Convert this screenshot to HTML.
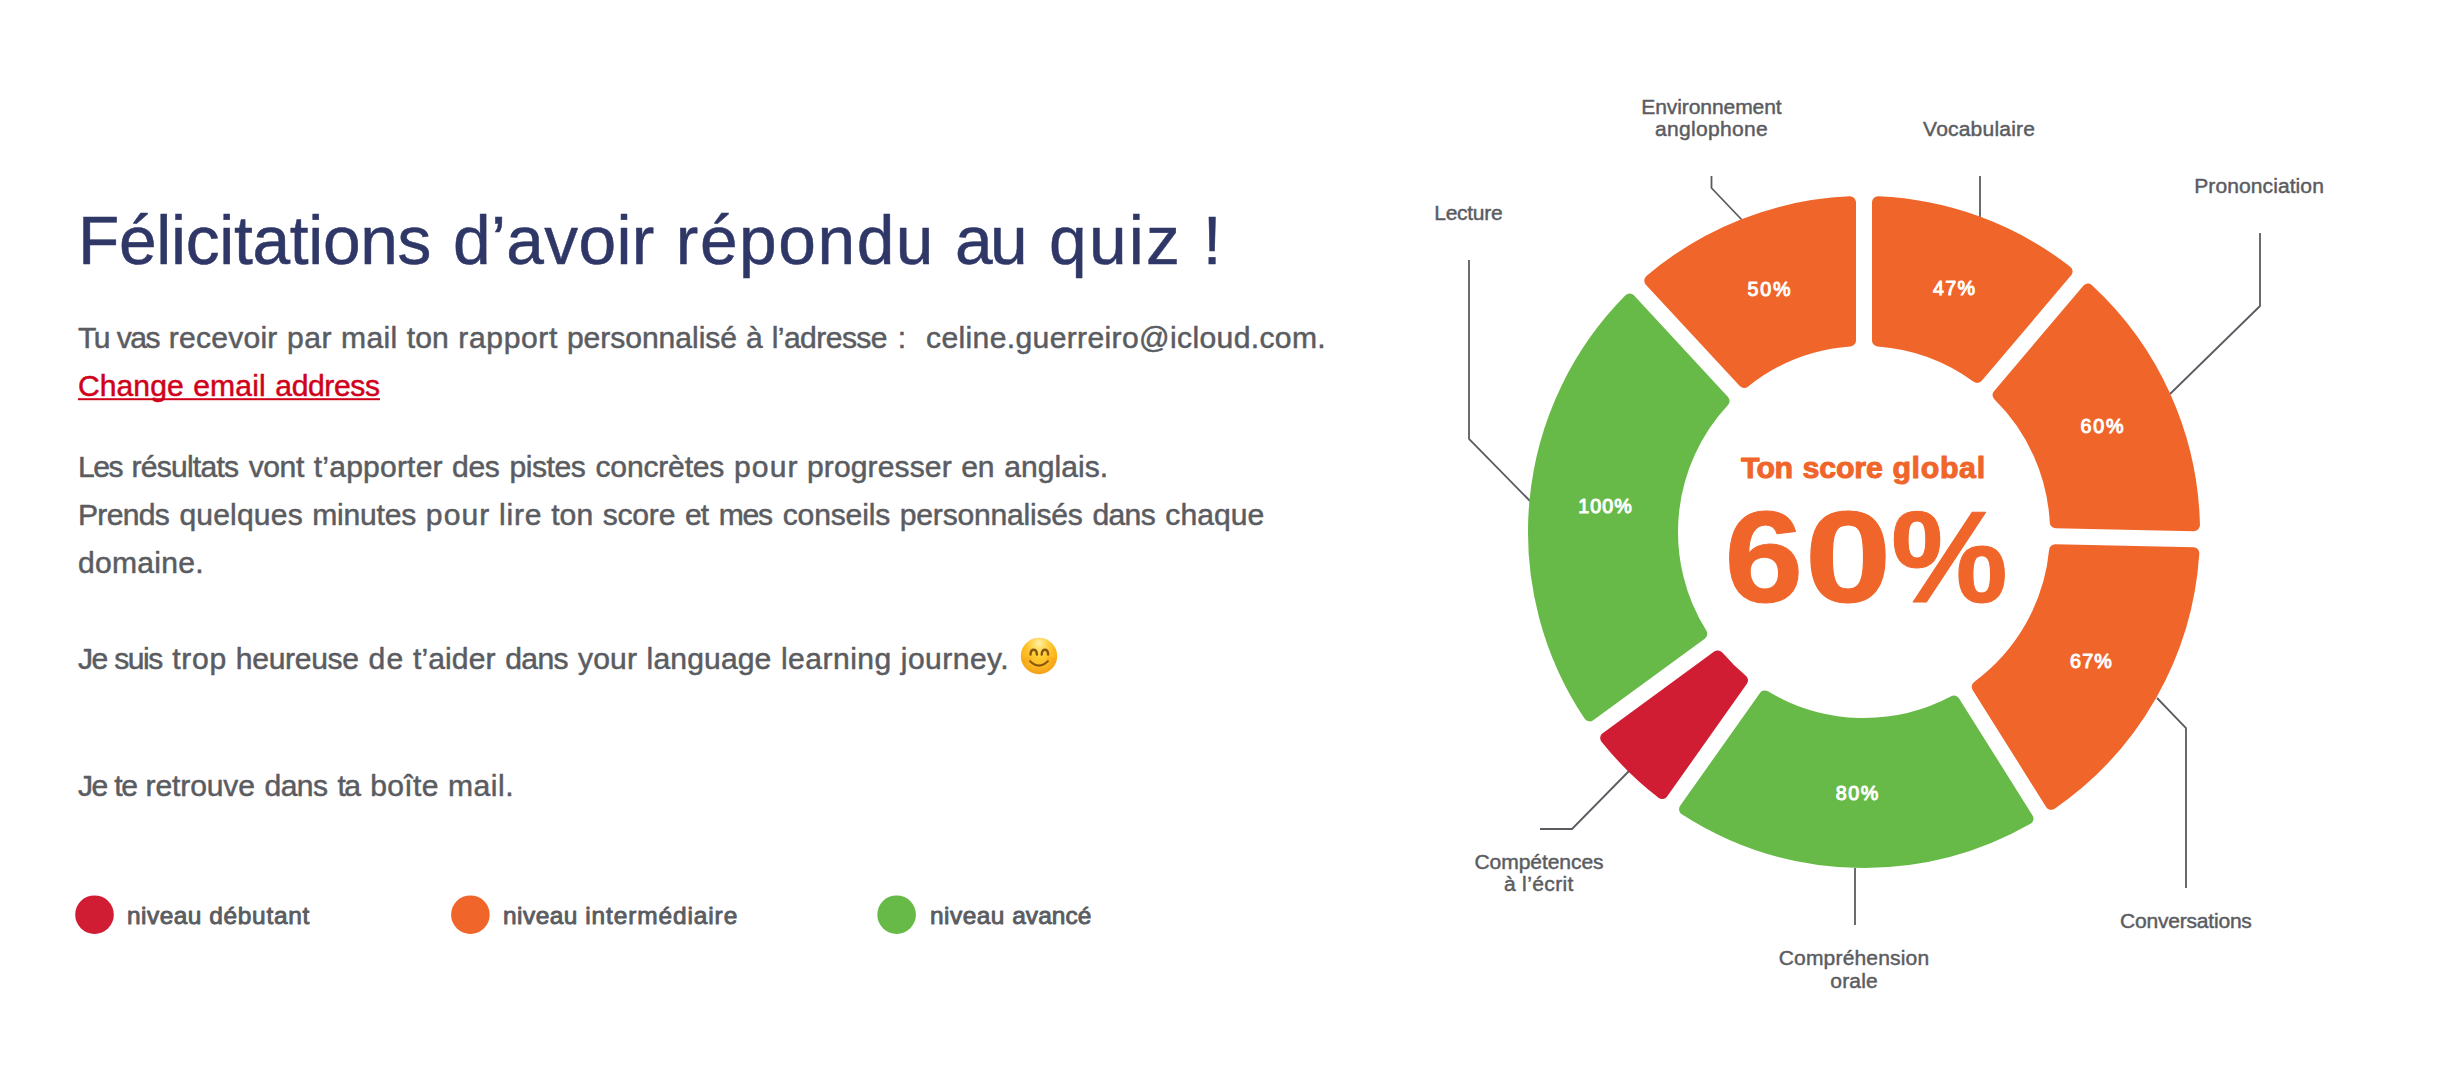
<!DOCTYPE html>
<html lang="fr"><head><meta charset="utf-8"><title>Quiz</title>
<style>
html,body{margin:0;padding:0;background:#fff;}
body{width:2438px;height:1070px;overflow:hidden;}
svg{display:block;font-family:"Liberation Sans", sans-serif;}
text{white-space:pre;}
</style></head><body>
<svg width="2438" height="1070" viewBox="0 0 2438 1070">
<defs><radialGradient id="eg" cx=".5" cy=".38" r=".66"><stop offset="0" stop-color="#ffd53c"/><stop offset=".6" stop-color="#fdbc22"/><stop offset="1" stop-color="#f39815"/></radialGradient><radialGradient id="eh" cx=".5" cy=".14" r=".42"><stop offset="0" stop-color="#fff6b8" stop-opacity=".9"/><stop offset="1" stop-color="#ffe35a" stop-opacity="0"/></radialGradient></defs>
<path d="M1469 260V439L1530 501" fill="none" stroke="#5a5c61" stroke-width="1.8"/>
<path d="M1711.5 176V188L1742 220" fill="none" stroke="#5a5c61" stroke-width="1.8"/>
<path d="M1980 176V217" fill="none" stroke="#5a5c61" stroke-width="1.8"/>
<path d="M2260 233V306L2170 394" fill="none" stroke="#5a5c61" stroke-width="1.8"/>
<path d="M2157 698L2186 728V888" fill="none" stroke="#5a5c61" stroke-width="1.8"/>
<path d="M1855 868V925" fill="none" stroke="#5a5c61" stroke-width="1.8"/>
<path d="M1630 770L1572 829H1540" fill="none" stroke="#5a5c61" stroke-width="1.8"/>
<path d="M1878.00 202.30A330.0 330.0 0 0 1 2066.57 271.49L1977.18 376.90A192.0 192.0 0 0 0 1878.00 340.51Z" fill="#f0652a" stroke="#f0652a" stroke-width="12.0" stroke-linejoin="round"/>
<path d="M2087.93 289.60A330.0 330.0 0 0 1 2193.93 525.20L2055.75 522.18A192.0 192.0 0 0 0 1998.53 395.01Z" fill="#f0652a" stroke="#f0652a" stroke-width="12.0" stroke-linejoin="round"/>
<path d="M2193.32 553.19A330.0 330.0 0 0 1 2051.21 803.76L1977.70 686.72A192.0 192.0 0 0 0 2055.14 550.17Z" fill="#f0652a" stroke="#f0652a" stroke-width="12.0" stroke-linejoin="round"/>
<path d="M2027.49 818.65A330.0 330.0 0 0 1 1685.05 809.27L1764.86 696.42A192.0 192.0 0 0 0 1953.99 701.61Z" fill="#67ba47" stroke="#67ba47" stroke-width="12.0" stroke-linejoin="round"/>
<path d="M1662.19 793.10A330.0 330.0 0 0 1 1606.21 738.02L1717.74 656.39A192.0 192.0 0 0 0 1742.00 680.26Z" fill="#d11d34" stroke="#d11d34" stroke-width="12.0" stroke-linejoin="round"/>
<path d="M1589.67 715.43A330.0 330.0 0 0 1 1629.71 299.60L1723.62 401.01A192.0 192.0 0 0 0 1701.21 633.80Z" fill="#67ba47" stroke="#67ba47" stroke-width="12.0" stroke-linejoin="round"/>
<path d="M1650.26 280.57A330.0 330.0 0 0 1 1850.00 202.30L1850.00 340.51A192.0 192.0 0 0 0 1744.17 381.99Z" fill="#f0652a" stroke="#f0652a" stroke-width="12.0" stroke-linejoin="round"/>
<text id="l_lect" y="219.8" font-size="21.06" fill="#5a5c61" stroke="#5a5c61" stroke-width="0.45" stroke-linejoin="round"><tspan x="1434.3" letter-spacing="-0.31">Lecture</tspan></text>
<text id="l_env1" y="113.8" font-size="21.06" fill="#5a5c61" stroke="#5a5c61" stroke-width="0.45" stroke-linejoin="round"><tspan x="1641.3" letter-spacing="-0.10">Environnement</tspan></text>
<text id="l_env2" y="136.4" font-size="21.06" fill="#5a5c61" stroke="#5a5c61" stroke-width="0.45" stroke-linejoin="round"><tspan x="1655.1" letter-spacing="0.30">anglophone</tspan></text>
<text id="l_voc" y="135.6" font-size="21.06" fill="#5a5c61" stroke="#5a5c61" stroke-width="0.45" stroke-linejoin="round"><tspan x="1923.1" letter-spacing="0.18">Vocabulaire</tspan></text>
<text id="l_pron" y="192.8" font-size="21.06" fill="#5a5c61" stroke="#5a5c61" stroke-width="0.45" stroke-linejoin="round"><tspan x="2194.2" letter-spacing="0.08">Prononciation</tspan></text>
<text id="l_conv" y="927.8" font-size="21.06" fill="#5a5c61" stroke="#5a5c61" stroke-width="0.45" stroke-linejoin="round"><tspan x="2120.0" letter-spacing="-0.22">Conversations</tspan></text>
<text id="l_comp1" y="964.8" font-size="21.06" fill="#5a5c61" stroke="#5a5c61" stroke-width="0.45" stroke-linejoin="round"><tspan x="1778.7" letter-spacing="0.16">Compréhension</tspan></text>
<text id="l_comp2" y="987.7" font-size="21.06" fill="#5a5c61" stroke="#5a5c61" stroke-width="0.45" stroke-linejoin="round"><tspan x="1830.3" letter-spacing="0.14">orale</tspan></text>
<text id="l_ecr1" y="868.9" font-size="21.06" fill="#5a5c61" stroke="#5a5c61" stroke-width="0.45" stroke-linejoin="round"><tspan x="1474.4" letter-spacing="-0.06">Compétences</tspan></text>
<text id="l_ecr2" y="891.4" font-size="21.06" fill="#5a5c61" stroke="#5a5c61" stroke-width="0.45" stroke-linejoin="round"><tspan x="1504.1">à</tspan> <tspan x="1522.1" letter-spacing="0.37">l’écrit</tspan></text>
<text id="p_50" y="295.6" font-size="19.74" fill="#fff" stroke="#fff" stroke-width="1.0" stroke-linejoin="round"><tspan x="1747.6" letter-spacing="1.69">50%</tspan></text>
<text id="p_47" y="294.6" font-size="19.74" fill="#fff" stroke="#fff" stroke-width="1.0" stroke-linejoin="round"><tspan x="1933.0" letter-spacing="1.30">47%</tspan></text>
<text id="p_60" y="432.8" font-size="19.74" fill="#fff" stroke="#fff" stroke-width="1.0" stroke-linejoin="round"><tspan x="2080.4" letter-spacing="1.86">60%</tspan></text>
<text id="p_67" y="667.7" font-size="19.74" fill="#fff" stroke="#fff" stroke-width="1.0" stroke-linejoin="round"><tspan x="2070.1" letter-spacing="1.14">67%</tspan></text>
<text id="p_80" y="799.5" font-size="19.74" fill="#fff" stroke="#fff" stroke-width="1.0" stroke-linejoin="round"><tspan x="1835.8" letter-spacing="1.49">80%</tspan></text>
<text id="p_100" y="513.2" font-size="19.74" fill="#fff" stroke="#fff" stroke-width="1.0" stroke-linejoin="round"><tspan x="1578.3" letter-spacing="0.98">100%</tspan></text>
<text id="c_title" y="478.1" font-size="30.4" font-weight="700" fill="#f0652a" stroke="#f0652a" stroke-width="1.0" stroke-linejoin="round"><tspan x="1740.9" letter-spacing="-0.69">Ton</tspan> <tspan x="1802.5" letter-spacing="-0.20">score</tspan> <tspan x="1892.4" letter-spacing="0.64">global</tspan></text>
<text id="h1" y="264.4" font-size="67.68" fill="#2f3767" stroke="#2f3767" stroke-width="0.5" stroke-linejoin="round"><tspan x="78.0" letter-spacing="-0.33">Félicitations</tspan> <tspan x="453.0" letter-spacing="0.32">d’avoir</tspan> <tspan x="675.8" letter-spacing="1.56">répondu</tspan> <tspan x="955.1" letter-spacing="-2.82">au</tspan> <tspan x="1049.1" letter-spacing="2.19">quiz</tspan> <tspan x="1202.8">!</tspan></text>
<text id="t1" y="348.4" font-size="30.08" fill="#5a5c61" stroke="#5a5c61" stroke-width="0.5" stroke-linejoin="round"><tspan x="78.0" letter-spacing="-1.50">Tu</tspan> <tspan x="116.7" letter-spacing="-1.50">vas</tspan> <tspan x="168.7" letter-spacing="0.24">recevoir</tspan> <tspan x="286.9" letter-spacing="0.58">par</tspan> <tspan x="341.1" letter-spacing="0.30">mail</tspan> <tspan x="406.8" letter-spacing="0.08">ton</tspan> <tspan x="458.3" letter-spacing="0.62">rapport</tspan> <tspan x="566.9" letter-spacing="-0.04">personnalisé</tspan> <tspan x="746.0">à</tspan> <tspan x="771.7" letter-spacing="-0.56">l’adresse</tspan> <tspan x="897.8">:</tspan>  <tspan x="926.0" letter-spacing="0.36">celine.guerreiro@icloud.com.</tspan></text>
<a href="#"><text id="t2" y="396.4" font-size="30.08" fill="#d0021b" stroke="#d0021b" stroke-width="0.5" stroke-linejoin="round"><tspan x="78.0" letter-spacing="0.06">Change</tspan> <tspan x="193.2" letter-spacing="0.16">email</tspan> <tspan x="275.3" letter-spacing="-0.39">address</tspan></text></a>
<text id="t3" y="476.5" font-size="30.08" fill="#5a5c61" stroke="#5a5c61" stroke-width="0.5" stroke-linejoin="round"><tspan x="78.0" letter-spacing="-1.50">Les</tspan> <tspan x="131.4" letter-spacing="-0.75">résultats</tspan> <tspan x="248.7" letter-spacing="-0.43">vont</tspan> <tspan x="313.8" letter-spacing="0.19">t’apporter</tspan> <tspan x="452.1" letter-spacing="-0.44">des</tspan> <tspan x="509.4" letter-spacing="-0.41">pistes</tspan> <tspan x="595.5" letter-spacing="-0.19">concrètes</tspan> <tspan x="734.0" letter-spacing="1.10">pour</tspan> <tspan x="807.0" letter-spacing="0.10">progresser</tspan> <tspan x="961.3" letter-spacing="-0.16">en</tspan> <tspan x="1004.2" letter-spacing="0.05">anglais.</tspan></text>
<text id="t4" y="524.5" font-size="30.08" fill="#5a5c61" stroke="#5a5c61" stroke-width="0.5" stroke-linejoin="round"><tspan x="78.0" letter-spacing="-0.70">Prends</tspan> <tspan x="179.4" letter-spacing="0.17">quelques</tspan> <tspan x="312.3" letter-spacing="-0.23">minutes</tspan> <tspan x="425.8" letter-spacing="1.11">pour</tspan> <tspan x="498.9" letter-spacing="0.85">lire</tspan> <tspan x="551.2" letter-spacing="0.08">ton</tspan> <tspan x="602.7" letter-spacing="-0.22">score</tspan> <tspan x="685.0" letter-spacing="-0.91">et</tspan> <tspan x="718.7" letter-spacing="-1.24">mes</tspan> <tspan x="782.7" letter-spacing="-0.16">conseils</tspan> <tspan x="899.8" letter-spacing="-0.21">personnalisés</tspan> <tspan x="1092.4" letter-spacing="-0.63">dans</tspan> <tspan x="1165.3" letter-spacing="0.07">chaque</tspan></text>
<text id="t5" y="572.5" font-size="30.08" fill="#5a5c61" stroke="#5a5c61" stroke-width="0.5" stroke-linejoin="round"><tspan x="78.0" letter-spacing="0.28">domaine.</tspan></text>
<text id="t6" y="668.6" font-size="30.08" fill="#5a5c61" stroke="#5a5c61" stroke-width="0.5" stroke-linejoin="round"><tspan x="78.0" letter-spacing="-1.50">Je</tspan> <tspan x="114.3" letter-spacing="-1.50">suis</tspan> <tspan x="172.3" letter-spacing="0.69">trop</tspan> <tspan x="235.8" letter-spacing="-0.31">heureuse</tspan> <tspan x="368.6" letter-spacing="1.29">de</tspan> <tspan x="412.9" letter-spacing="0.13">t’aider</tspan> <tspan x="505.2" letter-spacing="-0.63">dans</tspan> <tspan x="578.1" letter-spacing="0.12">your</tspan> <tspan x="646.6" letter-spacing="0.14">language</tspan> <tspan x="780.9" letter-spacing="0.48">learning</tspan> <tspan x="900.8" letter-spacing="0.44">journey.</tspan></text>
<text id="t7" y="796.4" font-size="30.08" fill="#5a5c61" stroke="#5a5c61" stroke-width="0.5" stroke-linejoin="round"><tspan x="78.0" letter-spacing="-1.50">Je</tspan> <tspan x="114.3" letter-spacing="-1.50">te</tspan> <tspan x="145.5" letter-spacing="-0.12">retrouve</tspan> <tspan x="264.6" letter-spacing="-0.63">dans</tspan> <tspan x="337.5" letter-spacing="-1.50">ta</tspan> <tspan x="370.2" letter-spacing="0.33">boîte</tspan> <tspan x="448.0" letter-spacing="0.53">mail.</tspan></text>
<text id="g1" y="924.0" font-size="24.44" fill="#5a5c61" stroke="#5a5c61" stroke-width="0.9" stroke-linejoin="round"><tspan x="127.0" letter-spacing="0.47">niveau</tspan> <tspan x="209.2" letter-spacing="0.72">débutant</tspan></text>
<text id="g2" y="924.2" font-size="24.44" fill="#5a5c61" stroke="#5a5c61" stroke-width="0.9" stroke-linejoin="round"><tspan x="503.0" letter-spacing="0.47">niveau</tspan> <tspan x="585.2" letter-spacing="0.90">intermédiaire</tspan></text>
<text id="g3" y="924.3" font-size="24.44" fill="#5a5c61" stroke="#5a5c61" stroke-width="0.9" stroke-linejoin="round"><tspan x="930.0" letter-spacing="0.47">niveau</tspan> <tspan x="1012.2" letter-spacing="0.08">avancé</tspan></text>
<text id="c_big" y="602.16" font-size="129.97" font-weight="700" fill="#f0652a" stroke="#f0652a" stroke-width="1.05" stroke-linejoin="round"><tspan x="1724.6" textLength="78.7" lengthAdjust="spacingAndGlyphs">6</tspan><tspan x="1804.8" textLength="86.7" lengthAdjust="spacingAndGlyphs">0</tspan><tspan x="1891.0" textLength="116.8" lengthAdjust="spacingAndGlyphs">%</tspan></text>
<rect id="ul" x="78" y="398.2" width="302" height="2" fill="#d0021b"/>
<circle cx="94.5" cy="914.7" r="19.3" fill="#d11d34"/>
<circle cx="470.4" cy="914.7" r="19.3" fill="#f0652a"/>
<circle cx="896.6" cy="914.7" r="19.3" fill="#67ba47"/>
<g id="emoji" transform="translate(1039 656)"><title>😊</title>
<circle r="18.2" fill="url(#eg)"/><circle r="18.2" fill="url(#eh)"/>
<ellipse cx="-11.8" cy="4" rx="4.6" ry="3.2" fill="#f28c1a" opacity=".22"/><ellipse cx="11.8" cy="4" rx="4.6" ry="3.2" fill="#f28c1a" opacity=".22"/>
<path d="M-8.5 -1.4Q-8.3 -6.2-5.3 -6.2Q-2.3 -6.2-2.1 -1.4M2.7 -1.4Q2.9 -6.2 5.9 -6.2Q8.9 -6.2 9.1 -1.4" fill="none" stroke="#8a5510" stroke-width="2.4" stroke-linecap="round"/>
<path d="M-8.9 5.3Q0 13.8 8.8 5.3" fill="none" stroke="#8a5510" stroke-width="2.1" stroke-linecap="round"/></g>
</svg>
</body></html>
